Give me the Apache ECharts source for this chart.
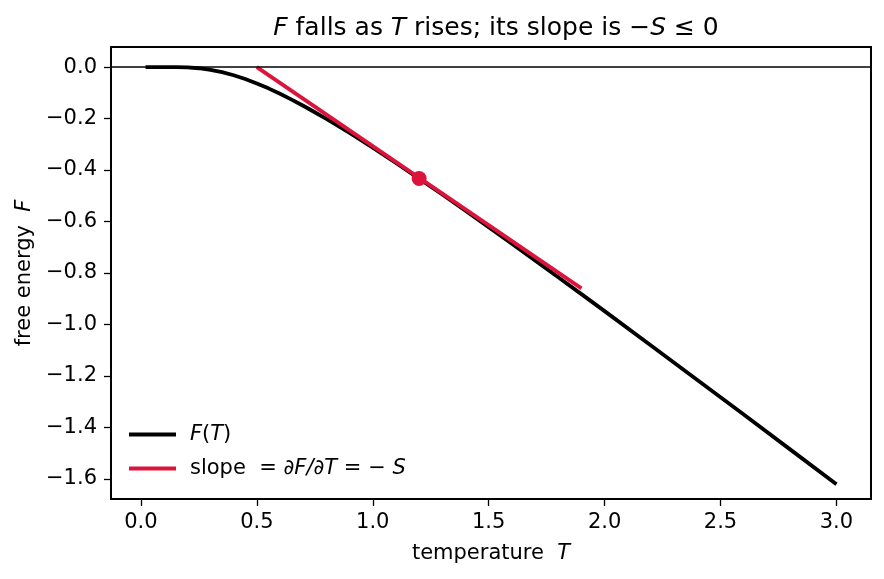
<!DOCTYPE html>
<html>
<head>
<meta charset="utf-8">
<script src="https://cdn.jsdelivr.net/npm/echarts@6/dist/echarts.min.js"></script>
<style>
  html, body { margin: 0; padding: 0; background: #fff; }
  #main { width: 884px; height: 579px; }
</style>
</head>
<body>
<div id="main"></div>
<script>
// free energy curve
var temps = [0.02, 0.1, 0.15, 0.2, 0.25, 0.3, 0.35, 0.4, 0.45, 0.5, 0.55, 0.6, 0.65, 0.7, 0.75,
             0.8, 0.9, 1.0, 1.1, 1.2, 1.3, 1.4, 1.5, 1.6, 1.7, 1.8, 1.9, 2.0, 2.2, 2.4, 2.6, 2.8, 3.0];
var freeEnergy = [0.0, 0.0, -0.0002, -0.0013, -0.0045, -0.0105, -0.0196, -0.0316, -0.0463, -0.0635,
                  -0.0827, -0.1038, -0.1264, -0.1504, -0.1755, -0.2016, -0.2561, -0.3133, -0.3724,
                  -0.4331, -0.4950, -0.5579, -0.6216, -0.6859, -0.7509, -0.8163, -0.8820, -0.9482,
                  -1.0813, -1.2153, -1.3500, -1.4852, -1.6209];
// tangent segment and touching point
var slopeT = [0.5, 1.9];
var slopeF = [0.0, -0.86];
var touchT = [1.2];
var touchF = [-0.433];
// tick labels
var xTicks = [0, 0.5, 1.0, 1.5, 2.0, 2.5, 3.0];
var yTicks = [-1.6, -1.4, -1.2, -1.0, -0.8, -0.6, -0.4, -0.2, 0.0];

var font = 'DejaVu Sans';
var red = '#dc143c';
var fs = 21;

function pairs(xs, ys) {
	var out = [];
	for (var i = 0; i < xs.length; i++) out.push([xs[i], ys[i]]);
	return out;
}
function fmt(v) {
	var s = v.toFixed(1);
	if (s === '-0.0') s = '0.0';
	return s.replace('-', '\u2212');
}
var richText = {
	n: { fontFamily: font, fontSize: fs, color: '#000' },
	i: { fontFamily: font, fontSize: fs, fontStyle: 'italic', color: '#000' },
	s: { width: 9 }
};

var chart = echarts.init(document.getElementById('main'));
var option = {
	animation: false,
	title: {
		text: '{i|F} falls as {i|T} rises; its slope is \u2212{i|S} \u2264 0',
		left: 491,
		textAlign: 'center',
		top: 11,
		textStyle: {
			fontFamily: font,
			fontSize: 25,
			fontWeight: 'normal',
			color: '#000',
			rich: {
				i: { fontFamily: font, fontSize: 25, fontStyle: 'italic', color: '#000' }
			}
		}
	},
	grid: {
		left: 111, right: 13, top: 47, bottom: 80,
		show: true,
		borderColor: '#000',
		borderWidth: 2,
		backgroundColor: 'transparent'
	},
	legend: {
		orient: 'vertical',
		left: 124,
		top: 419,
		itemWidth: 47,
		itemHeight: 4,
		itemGap: 13,
		textStyle: {
			fontFamily: font,
			fontSize: fs,
			color: '#000',
			rich: richText
		},
		formatter: function(name) {
			if (name === 'F(T)') return '{s|}{i|F}{n|(}{i|T}{n|)}';
			return '{s|}{n|slope  = }{i|\u2202F/\u2202T}{n| = \u2212 }{i|S}';
		},
		data: [
			{ name: 'F(T)', icon: 'rect' },
			{ name: 'slope', icon: 'rect' }
		]
	},
	xAxis: {
		type: 'value',
		min: -0.129,
		max: 3.149,
		name: '{n|temperature  }{i|T}',
		nameLocation: 'middle',
		nameGap: 44,
		nameTextStyle: { rich: richText },
		axisLine: { show: true, onZero: false, lineStyle: { color: '#000', width: 2 } },
		splitLine: { show: false },
		axisTick: {
			show: true, inside: false, length: 7,
			customValues: xTicks,
			lineStyle: { color: '#000', width: 1.3 }
		},
		axisLabel: {
			customValues: xTicks,
			margin: 13,
			fontFamily: font, fontSize: fs, color: '#000',
			formatter: fmt
		}
	},
	yAxis: {
		type: 'value',
		min: -1.678,
		max: 0.078,
		name: '{n|free energy  }{i|F}',
		nameLocation: 'middle',
		nameGap: 76,
		nameRotate: 90,
		nameTextStyle: { rich: richText },
		axisLine: { show: true, onZero: false, lineStyle: { color: '#000', width: 2 } },
		splitLine: { show: false },
		axisTick: {
			show: true, inside: false, length: 7,
			customValues: yTicks,
			lineStyle: { color: '#000', width: 1.3 }
		},
		axisLabel: {
			customValues: yTicks,
			margin: 14,
			fontFamily: font, fontSize: fs, color: '#000',
			formatter: fmt
		}
	},
	series: [
		{
			name: 'F(T)',
			type: 'line',
			data: pairs(temps, freeEnergy),
			showSymbol: false,
			symbol: 'none',
			color: '#000',
			lineStyle: { color: '#000', width: 3.8, join: 'round' },
			markLine: {
				silent: true,
				symbol: 'none',
				label: { show: false },
				lineStyle: { color: '#000', width: 1.5, type: 'solid' },
				data: [{ yAxis: 0 }]
			},
			z: 2
		},
		{
			name: 'slope',
			type: 'line',
			data: pairs(slopeT, slopeF),
			showSymbol: false,
			symbol: 'none',
			color: red,
			lineStyle: { color: red, width: 3.8 },
			z: 3
		},
		{
			name: 'point',
			type: 'scatter',
			data: pairs(touchT, touchF),
			symbol: 'circle',
			symbolSize: 15,
			itemStyle: { color: red, opacity: 1 },
			z: 4
		}
	]
};
chart.setOption(option);
</script>
</body>
</html>
